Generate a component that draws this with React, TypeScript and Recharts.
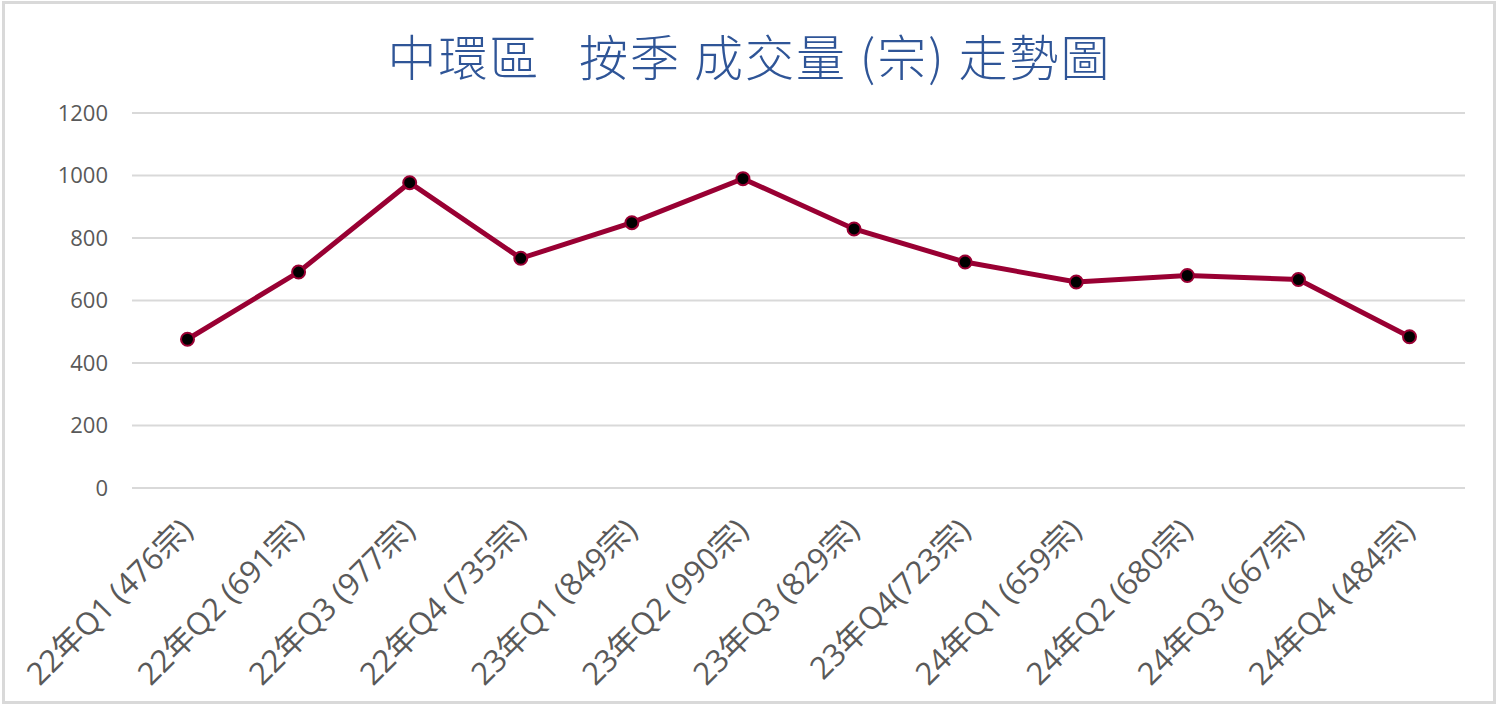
import { CartesianGrid, Line, LineChart, XAxis, YAxis } from "recharts";

const LINE = "#990033";
const GRID = "#d9d9d9";
const TEXT = "#595959";

const quarters = [
  "22年Q1 (476宗)",
  "22年Q2 (691宗)",
  "22年Q3 (977宗)",
  "22年Q4 (735宗)",
  "23年Q1 (849宗)",
  "23年Q2 (990宗)",
  "23年Q3 (829宗)",
  "23年Q4(723宗)",
  "24年Q1 (659宗)",
  "24年Q2 (680宗)",
  "24年Q3 (667宗)",
  "24年Q4 (484宗)",
];
const deals = [476, 691, 977, 735, 849, 990, 829, 723, 659, 680, 667, 484];
const yTicks = [0, 200, 400, 600, 800, 1000, 1200];

const data = quarters.map((q, i) => ({ q, deals: deals[i] }));

// rotated category label, end of text sits under the point
function SlantTick({ x, y, payload }: { x?: number; y?: number; payload?: { value: string } }) {
  return (
    <g transform={`translate(${(x ?? 0) + 7},${(y ?? 0) + 36})`}>
      <text
        transform="rotate(-45)"
        textAnchor="end"
        fill={TEXT}
        fontSize={31}
        fontFamily="'Open Sans', 'Noto Sans CJK TC', sans-serif"
      >
        {payload?.value}
      </text>
    </g>
  );
}

export default function App() {
  return (
    <div
      style={{
        position: "absolute",
        left: 0,
        top: 0,
        width: 1499,
        height: 706,
        background: "#fff",
      }}
    >
      <div
        style={{
          position: "absolute",
          left: 2,
          top: 1,
          width: 1494,
          height: 703,
          boxSizing: "border-box",
          border: `3px solid ${GRID}`,
        }}
      />
      <div
        style={{
          position: "absolute",
          left: 0,
          top: 30,
          width: 1499,
          textAlign: "center",
          fontSize: 49,
          lineHeight: "49px",
          letterSpacing: 2,
          color: "#2f5597",
          fontWeight: 300,
          whiteSpace: "pre",
          fontFamily: "'Noto Sans CJK TC', sans-serif",
        }}
      >
        {"中環區   按季 成交量 (宗) 走勢圖"}
      </div>
      <div style={{ position: "absolute", left: 0, top: 0 }}>
        <LineChart
          width={1499}
          height={706}
          data={data}
          margin={{ top: 113, right: 34, bottom: 0, left: 0 }}
        >
          <CartesianGrid stroke={GRID} strokeWidth={2} vertical={false} />
          <XAxis
            dataKey="q"
            height={218}
            axisLine={false}
            tickLine={false}
            interval={0}
            padding={{ left: 55.5, right: 55.5 }}
            tick={<SlantTick />}
          />
          <YAxis
            width={132}
            domain={[0, 1200]}
            ticks={yTicks}
            axisLine={false}
            tickLine={false}
            tickSize={0}
            tickMargin={24}
            tick={{ fill: TEXT, fontSize: 22, fontFamily: "'Open Sans', sans-serif" }}
          />
          <Line
            type="linear"
            dataKey="deals"
            stroke={LINE}
            strokeWidth={5}
            dot={{ r: 6.5, fill: "#000", stroke: LINE, strokeWidth: 2 }}
            isAnimationActive={false}
          />
        </LineChart>
      </div>
    </div>
  );
}
